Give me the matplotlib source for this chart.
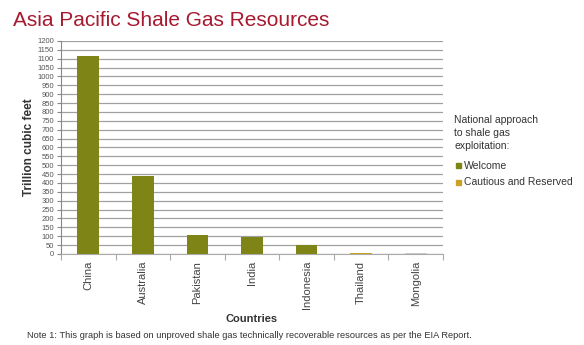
import matplotlib.pyplot as plt
import numpy as np

plt.rcParams['font.family'] = ['Liberation Sans', 'DejaVu Sans']

countries = ['China', 'Australia', 'Pakistan', 'India', 'Indonesia', 'Thailand', 'Mongolia']
resources = [1115, 437, 105, 96, 48, 8, 7]
approach = ['Welcome', 'Welcome', 'Welcome', 'Welcome', 'Welcome', 'Cautious', 'Unknown']

OLIVE = '#7f8417'
GOLD = '#c9a227'
LIGHT = '#c8c8c0'
colors = {'Welcome': OLIVE, 'Cautious': GOLD, 'Unknown': LIGHT}

fig = plt.figure(figsize=(5.84, 3.45), dpi=100)
ax = fig.add_axes([0.1045, 0.2638, 0.654, 0.6174])

x = np.arange(len(countries))
ax.bar(x, resources, width=0.4, color=[colors[a] for a in approach], zorder=3)

ax.set_xlim(-0.5, len(countries) - 0.5)
ax.set_ylim(0, 1200)
ax.set_yticks(np.arange(0, 1201, 50))
ax.tick_params(axis='y', labelsize=5.5, labelcolor='#555555', color='#888888',
               length=3, width=0.8, pad=2)
ax.yaxis.grid(True, color='#a0a0a0', linewidth=0.9, zorder=0)

# category separators as tick marks, names as minor-tick labels
ax.set_xticks(np.arange(-0.5, len(countries), 1))
ax.set_xticklabels([])
ax.set_xticks(x, minor=True)
ax.set_xticklabels(countries, minor=True, rotation=90, fontsize=8, color='#444444')
ax.tick_params(axis='x', which='major', length=4, color='#aaaaaa', width=0.8)
ax.tick_params(axis='x', which='minor', length=0, pad=5)

for s in ['top', 'right']:
    ax.spines[s].set_visible(False)
ax.spines['left'].set_color('#888888')
ax.spines['bottom'].set_color('#aaaaaa')

ax.set_ylabel('Trillion cubic feet', fontsize=8.5, fontweight='bold', color='#333333', labelpad=2)
ax.set_xlabel('Countries', fontsize=8, fontweight='bold', color='#333333', labelpad=3)

fig.text(0.022, 0.925, 'Asia Pacific Shale Gas Resources', fontsize=15, color='#a6192e')

fig.text(0.778, 0.667, 'National approach\nto shale gas\nexploitation:', fontsize=7.5,
         color='#333333', linespacing=1.4, va='top')
fig.patches.append(plt.Rectangle((0.781, 0.512), 0.0085, 0.0145, color=OLIVE,
                                 transform=fig.transFigure, figure=fig))
fig.text(0.794, 0.520, 'Welcome', fontsize=7.5, color='#333333', va='center')
fig.patches.append(plt.Rectangle((0.781, 0.465), 0.0085, 0.0145, color=GOLD,
                                 transform=fig.transFigure, figure=fig))
fig.text(0.794, 0.473, 'Cautious and Reserved', fontsize=7.5, color='#333333', va='center')

fig.text(0.046, 0.02, 'Note 1: This graph is based on unproved shale gas technically '
         'recoverable resources as per the EIA Report.', fontsize=6.7, color='#333333')

fig.savefig('out.png', dpi=100)
